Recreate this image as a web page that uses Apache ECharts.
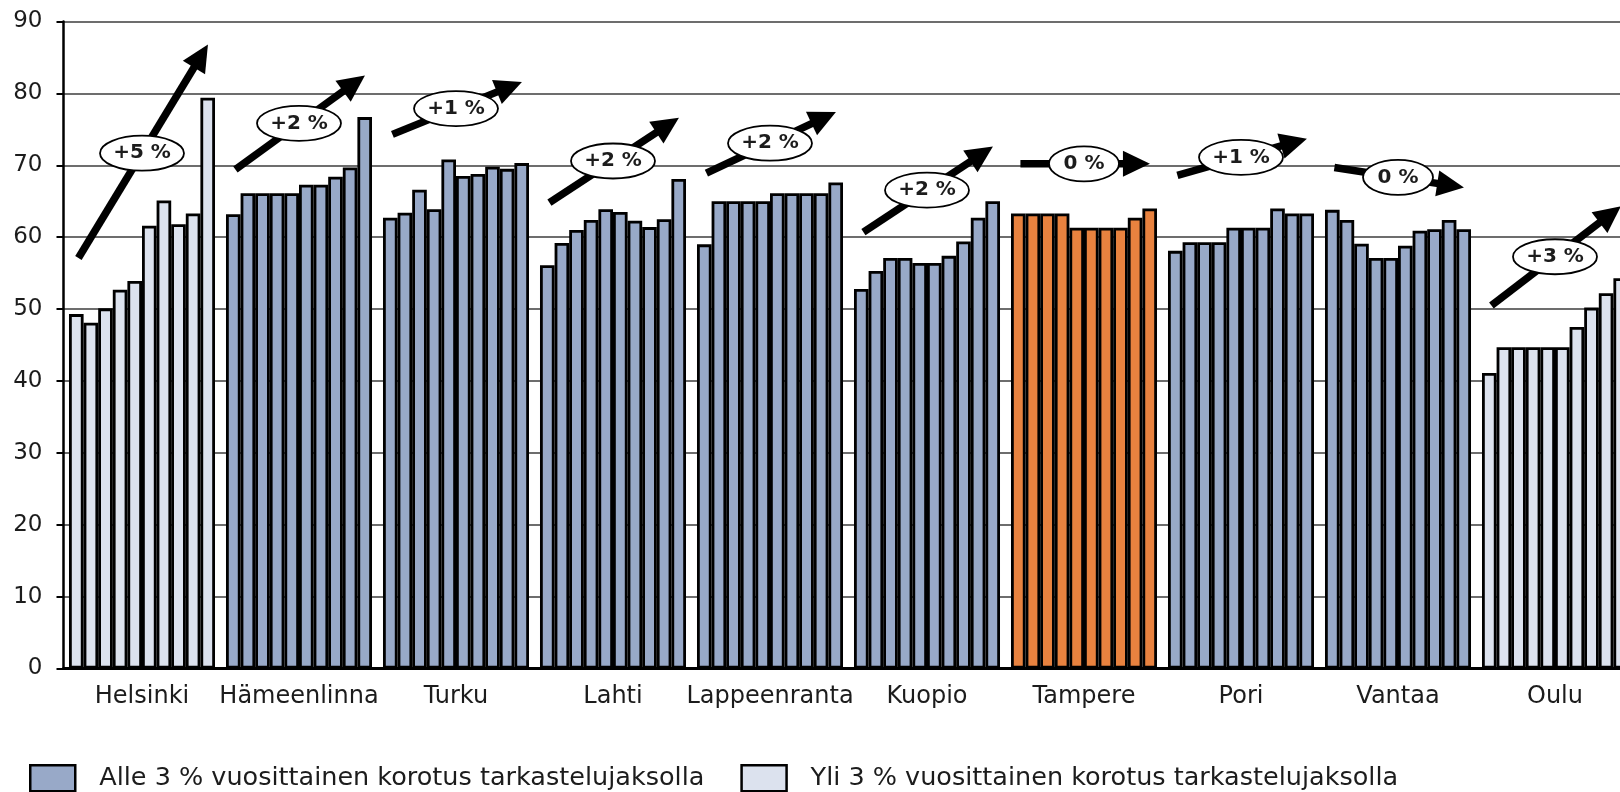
<!DOCTYPE html>
<html>
<head>
<meta charset="utf-8">
<script src="https://cdn.jsdelivr.net/npm/echarts@6/dist/echarts.min.js"></script>
<style>
  html, body { margin: 0; padding: 0; background: #ffffff; }
  #chart { width: 1620px; height: 792px; }
</style>
</head>
<body>
<div id="chart"></div>
<script>
// Cities on the x axis
const cities = ['Helsinki', 'Hämeenlinna', 'Turku', 'Lahti', 'Lappeenranta',
                'Kuopio', 'Tampere', 'Pori', 'Vantaa', 'Oulu'];

// Ten consecutive periods per city
const helsinki     = [49.3, 48.1, 50.1, 52.7, 53.9, 61.6, 65.1, 61.8, 63.3, 79.4];
const hameenlinna  = [63.2, 66.1, 66.1, 66.1, 66.1, 67.3, 67.3, 68.4, 69.7, 76.7];
const turku        = [62.7, 63.4, 66.6, 63.9, 70.8, 68.5, 68.8, 69.8, 69.5, 70.3];
const lahti        = [56.1, 59.2, 61.0, 62.4, 63.9, 63.5, 62.3, 61.4, 62.5, 68.1];
const lappeenranta = [59.0, 65.0, 65.0, 65.0, 65.0, 66.1, 66.1, 66.1, 66.1, 67.6];
const kuopio       = [52.8, 55.3, 57.1, 57.1, 56.4, 56.4, 57.4, 59.4, 62.7, 65.0];
const tampere      = [63.3, 63.3, 63.3, 63.3, 61.3, 61.3, 61.3, 61.3, 62.7, 64.0];
const pori         = [58.1, 59.3, 59.3, 59.3, 61.3, 61.3, 61.3, 64.0, 63.3, 63.3];
const vantaa       = [63.8, 62.4, 59.1, 57.1, 57.1, 58.8, 60.9, 61.1, 62.4, 61.1];
const oulu         = [41.1, 44.7, 44.7, 44.7, 44.7, 44.7, 47.5, 50.2, 52.2, 54.3];

const cityValues = [helsinki, hameenlinna, turku, lahti, lappeenranta,
                    kuopio, tampere, pori, vantaa, oulu];

// Annual increase class of each city ('oma' = Tampere itself)
const cityClass = ['yli', 'alle', 'alle', 'alle', 'alle', 'alle', 'oma', 'alle', 'alle', 'yli'];

// Trend arrows: annual change label, level at arrow tail and at arrow tip
const trendLabels = ['+5 %', '+2 %', '+1 %', '+2 %', '+2 %', '+2 %', '0 %', '+1 %', '0 %', '+3 %'];
const trendStart  = [57.1, 69.4, 74.3, 64.8, 68.9, 60.7, 70.2, 68.6, 69.7, 50.5];
const trendEnd    = [86.8, 82.5, 81.6, 76.6, 77.4, 72.6, 70.2, 73.7, 66.9, 64.3];

// Legend entries
const legendAlle = 'Alle 3 % vuosittainen korotus tarkastelujaksolla';
const legendYli  = 'Yli 3 % vuosittainen korotus tarkastelujaksolla';

// Value axis
const yMin = 0, yMax = 90, yStep = 10;

// ---- styling ----
const FONT = '"DejaVu Sans", Verdana, sans-serif';
const TEXT = '#1c1c1c';
const FILL = { alle: '#98A9C8', yli: '#DCE2EE', oma: '#E8823F' };

const periodCount = cityValues[0].length;
const barSeries = [];
for (let k = 0; k < periodCount; k++) {
  barSeries.push({
    type: 'bar',
    name: 'jakso ' + (k + 1),
    barGap: '0%',
    barCategoryGap: '7%',
    silent: true,
    itemStyle: { borderColor: '#000000', borderWidth: 2.8 },
    data: cities.map((c, i) => ({
      value: cityValues[i][k],
      itemStyle: { color: FILL[cityClass[i]] }
    }))
  });
}

// Arrow geometry relative to the category band
const TAIL = 0.405, TIP = 0.42, HEAD_LEN = 27, HEAD_HALF = 13;

function renderTrend(params, api) {
  const i = api.value(0);
  const a = api.coord([i, api.value(1)]);
  const b = api.coord([i, api.value(2)]);
  const band = api.size([1, 0])[0];
  const cx = a[0];
  const x0 = cx - band * TAIL, y0 = a[1];
  const x1 = cx + band * TIP, y1 = b[1];
  const dx = x1 - x0, dy = y1 - y0;
  const len = Math.sqrt(dx * dx + dy * dy);
  const ux = dx / len, uy = dy / len;
  const px = -uy, py = ux;
  const bx = x1 - ux * HEAD_LEN, by = y1 - uy * HEAD_LEN;
  const label = trendLabels[params.dataIndex];
  const ey = y0 + (cx - x0) / dx * dy;
  const rx = 14 + 7 * label.length;
  return {
    type: 'group',
    children: [
      { type: 'line',
        shape: { x1: x0, y1: y0, x2: bx + ux * 3, y2: by + uy * 3 },
        style: { stroke: '#000', lineWidth: 7.5, lineCap: 'butt' } },
      { type: 'polygon',
        shape: { points: [[x1, y1], [bx + px * HEAD_HALF, by + py * HEAD_HALF], [bx - px * HEAD_HALF, by - py * HEAD_HALF]] },
        style: { fill: '#000' } },
      { type: 'ellipse',
        shape: { cx: cx, cy: ey, rx: rx, ry: 17.5 },
        style: { fill: '#ffffff', stroke: '#000', lineWidth: 1.8 } },
      { type: 'text',
        x: cx, y: ey,
        style: { text: label, fill: TEXT, font: 'bold 20px ' + FONT, align: 'center', verticalAlign: 'middle' } }
    ]
  };
}

const chart = echarts.init(document.getElementById('chart'), null, { renderer: 'canvas' });

chart.setOption({
  animation: false,
  backgroundColor: '#ffffff',
  // the last city group runs past the right edge of the canvas
  grid: { left: 63.5, width: 1570, top: 21.5, bottom: 123.5, containLabel: false, outerBoundsMode: 'none' },
  legend: {
    left: 29,
    top: 764,
    padding: 0,
    itemWidth: 45,
    itemHeight: 26,
    itemGap: 36,
    selectedMode: false,
    textStyle: { fontFamily: FONT, fontSize: 25.5, color: TEXT, padding: [0, 0, 0, 19] },
    data: [
      { name: legendAlle, icon: 'rect', itemStyle: { color: FILL.alle, borderColor: '#000', borderWidth: 2.5 } },
      { name: legendYli, icon: 'rect', itemStyle: { color: FILL.yli, borderColor: '#000', borderWidth: 2.5 } }
    ]
  },
  xAxis: {
    type: 'category',
    data: cities,
    axisLine: { lineStyle: { color: '#000', width: 3 } },
    axisTick: { show: false },
    axisLabel: { interval: 0, margin: 16, color: TEXT, fontFamily: FONT, fontSize: 24 },
    splitLine: { show: false }
  },
  yAxis: {
    type: 'value',
    min: yMin, max: yMax, interval: yStep,
    axisLine: { show: true, lineStyle: { color: '#000', width: 2.5 } },
    axisTick: { show: true, length: 7, lineStyle: { color: '#000', width: 2 } },
    axisLabel: { margin: 21, color: TEXT, fontFamily: FONT, fontSize: 23 },
    splitLine: { show: true, lineStyle: { color: '#3c3c3c', width: 1.5 } }
  },
  series: barSeries.concat([
    { type: 'line', name: legendAlle, data: [] },
    { type: 'line', name: legendYli, data: [] },
    {
      type: 'custom',
      name: 'trendi',
      silent: true,
      z: 10,
      clip: false,
      renderItem: renderTrend,
      encode: { x: 0, y: [1, 2] },
      data: cities.map((c, i) => [i, trendStart[i], trendEnd[i]])
    }
  ])
});
</script>
</body>
</html>
